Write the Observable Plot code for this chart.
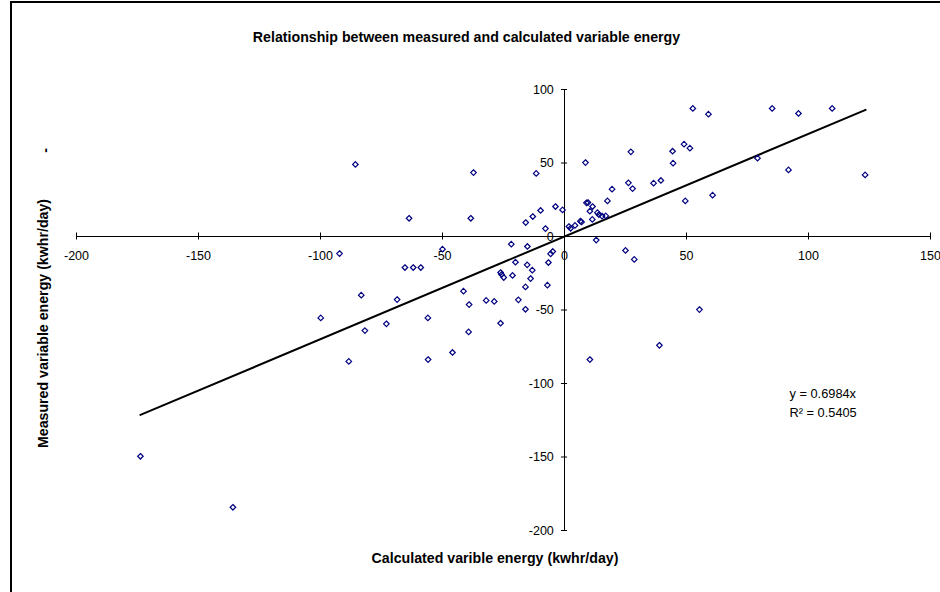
<!DOCTYPE html>
<html><head><meta charset="utf-8">
<script src="https://cdn.jsdelivr.net/npm/d3@7"></script>
<script src="https://cdn.jsdelivr.net/npm/@observablehq/plot@0.6"></script>
<style>
html,body{margin:0;padding:0;background:#fff;}
#wrap{position:relative;width:940px;height:592px;overflow:hidden;background:#fff;}
#border{position:absolute;left:10px;top:1px;width:1000px;height:700px;border-left:2px solid #000;border-top:2px solid #000;pointer-events:none;}
</style></head><body>
<div id="wrap"><div id="chart"></div><div id="border"></div></div>
<script>
const calculated = [
-85.7,-37.3,-11.6,-63.7,-38.4,-15.9,-13.0,-9.8,-3.7,-0.8,-7.8,
8.6,1.8,2.5,4.3,6.5,7.0,9.0,9.6,10.4,11.5,11.4,13.5,14.1,15.4,16.9,17.6,19.5,26.2,27.9,27.2,36.5,39.5,44.3,44.5,49.0,51.4,49.5,52.6,59.0,60.7,79.1,85.1,91.8,95.9,109.7,123.2,
13.0,25.0,28.6,55.3,38.9,10.4,
-92.2,-50.0,-21.8,-15.2,-5.7,-4.8,-65.4,-62.0,-58.9,-20.1,-15.3,-13.2,-6.6,-26.2,-25.8,-24.9,-21.3,-13.9,-7.0,-16.0,-83.3,-68.6,-41.4,-39.1,-32.1,-28.8,-18.9,-16.0,-99.9,-56.0,-81.8,-73.0,-39.3,-26.2,-88.4,-55.9,-45.9,-173.8,-135.9
];
const measured = [
49.0,43.5,42.9,12.4,12.4,9.5,13.6,17.7,20.4,18.1,5.4,
50.3,6.8,5.6,7.5,10.4,9.9,22.9,23.1,17.2,20.4,11.6,16.2,14.8,13.9,14.0,24.2,32.2,36.5,32.6,57.6,36.3,38.1,58.0,49.9,62.8,60.1,24.2,87.1,83.2,28.1,53.3,87.1,45.3,83.7,87.1,41.9,
-2.4,-9.5,-15.6,-49.7,-74.0,-83.7,
-11.6,-8.6,-5.2,-6.8,-11.8,-10.2,-21.1,-21.1,-21.1,-17.5,-19.3,-22.9,-17.7,-24.5,-25.9,-27.9,-26.5,-28.6,-33.1,-34.3,-39.9,-42.9,-37.2,-46.3,-43.5,-44.2,-43.1,-49.5,-55.4,-55.4,-64.0,-59.4,-64.9,-59.0,-85.0,-83.7,-78.9,-149.5,-184.2
];
const xTicks = [-200,-150,-100,-50,0,50,100,150];
const yTicks = [100,50,0,-50,-100,-150,-200];
const slope = 0.6984;
const trendX = [-173.8, 123.4];
const titleText = "Relationship between measured and calculated variable energy";
const xLabel = "Calculated varible energy (kwhr/day)";
const yLabel = "Measured variable energy (kwhr/day)";
const eqText = "y = 0.6984x";
const r2Text = "R\u00B2 = 0.5405";

const points = calculated.map((x, i) => ({x, y: measured[i]}));
const trend = trendX.map(x => ({x, y: slope * x}));

const chart = Plot.plot({
  width: 940, height: 592,
  marginLeft: 76, marginRight: 10, marginTop: 89, marginBottom: 62,
  x: {domain: [-200, 150], axis: null},
  y: {domain: [-200, 100], axis: null},
  style: {fontFamily: "'Liberation Sans', Arial, sans-serif", background: "#fff", color: "#000"},
  marks: [
    Plot.ruleY([0], {stroke: "#000", strokeWidth: 1}),
    Plot.ruleX([0], {stroke: "#000", strokeWidth: 1}),
    Plot.ruleX(xTicks, {x: d => d, y1: -2.4, y2: 2.4, stroke: "#000", strokeWidth: 1}),
    Plot.ruleY(yTicks, {y: d => d, x1: -1.25, x2: 1.25, stroke: "#000", strokeWidth: 1}),
    Plot.text(xTicks, {x: d => d, y: 0, text: d => String(d), dy: 19.5, fontSize: 12.5, fill: "#000"}),
    Plot.text(yTicks, {x: 0, y: d => d, text: d => String(d), dx: -10.7, textAnchor: "end", fontSize: 12.5, fill: "#000"}),
    Plot.line(trend, {x: "x", y: "y", stroke: "#000", strokeWidth: 2}),
    Plot.dot(points, {x: "x", y: "y", symbol: "diamond2", r: 2.5, stroke: "#000080", strokeWidth: 1.2, fill: "none"}),
    Plot.text([titleText], {frameAnchor: "top", textAnchor: "middle", lineAnchor: "middle", dx: -37, dy: -52, fontSize: 14.2, fontWeight: "bold", fill: "#000"}),
    Plot.text([xLabel], {frameAnchor: "bottom", textAnchor: "middle", lineAnchor: "middle", dx: -8.5, dy: 28, fontSize: 14.2, fontWeight: "bold", fill: "#000"}),
    Plot.text([yLabel], {frameAnchor: "left", textAnchor: "middle", lineAnchor: "middle", dx: -33, dy: 13.5, rotate: -90, fontSize: 14.2, fontWeight: "bold", fill: "#000"}),
    Plot.text(["-"], {frameAnchor: "top-left", textAnchor: "middle", lineAnchor: "middle", dx: -31, dy: 61, rotate: -90, fontSize: 14.2, fontWeight: "bold", fill: "#000"}),
    Plot.text([eqText], {frameAnchor: "top-left", textAnchor: "start", lineAnchor: "middle", dx: 713, dy: 304, fontSize: 12.8, fill: "#000"}),
    Plot.text([r2Text], {frameAnchor: "top-left", textAnchor: "start", lineAnchor: "middle", dx: 713, dy: 323, fontSize: 12.8, fill: "#000"})
  ]
});
document.getElementById("chart").appendChild(chart);
</script>
</body></html>
